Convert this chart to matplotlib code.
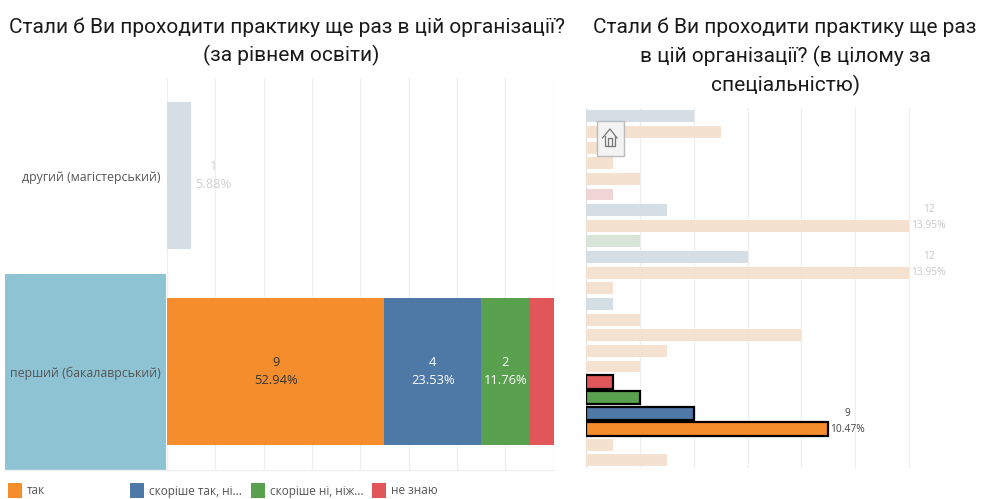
# -*- coding: utf-8 -*-
"""Practice survey bars: by education level and by speciality."""
import matplotlib
matplotlib.use("Agg")
import matplotlib.pyplot as plt
from matplotlib.lines import Line2D
from matplotlib.patches import Rectangle


W, H = 982, 499
TITLE_FONT = "Roboto"
TITLE_SIZE = 15.0
LABEL_FONT = "Open Sans"

ANSWERS = ["так", "скоріше так, ні...", "скоріше ні, ніж...", "не знаю"]
COLORS = ["#F58D2C", "#4E79A7", "#59A14F", "#E15759"]
FADED = ["#F4E1CF", "#D5DDE5", "#D9E4D8", "#EFD5D6"]

LEVELS = ["другий (магістерський)", "перший (бакалаврський)"]
LEVEL_YES = [0, 9]
LEVEL_RATHER_YES = [1, 4]
LEVEL_RATHER_NO = [0, 2]
LEVEL_UNKNOWN = [0, 1]

# answer index and count for each row of the right chart, top to bottom
SPEC_ANSWER = [1, 0, 0, 0, 0, 3, 1, 0, 2, 1, 0, 0, 1, 0, 0, 0, 0, 3, 2, 1, 0, 0, 0]
SPEC_COUNT = [4, 5, 1, 1, 2, 1, 3, 12, 2, 6, 12, 1, 1, 2, 8, 3, 2, 1, 2, 4, 9, 1, 3]
SPEC_HIGHLIGHT = [17, 18, 19, 20]
SPEC_LABELLED = [7, 10, 20]


def box(x0, y0, x1, y1):
    """Return a figure fraction rectangle from pixel edges."""
    return [x0 / W, 1 - y1 / H, (x1 - x0) / W, (y1 - y0) / H]


def px(x, y):
    """Return figure fractions for a pixel position."""
    return x / W, 1 - y / H


def style_axes(ax, xmax, step):
    """Draw only the pale vertical grid."""
    for spine in ax.spines.values():
        spine.set_visible(False)
    ax.set_xlim(0, xmax)
    ax.set_xticks(range(0, xmax + 1, step))
    ax.tick_params(axis="x", length=0, labelbottom=False)
    ax.grid(axis="x", color="#EFEFEF", lw=1)
    ax.set_axisbelow(True)
    ax.patch.set_alpha(0)


fig = plt.figure(figsize=(W / 100, H / 100), dpi=100, facecolor="white")

# Left chart
ax = fig.add_axes(box(167, 77.5, 553.6, 469.5))
style_axes(ax, 16, 2)
ax.set_ylim(1.5, -0.5)
ax.set_yticks([])

series = [LEVEL_YES, LEVEL_RATHER_YES, LEVEL_RATHER_NO, LEVEL_UNKNOWN]
total = sum(sum(s) for s in series)
for row in range(len(LEVELS)):
    left = 0
    for i, values in enumerate(series):
        value = values[row]
        if value == 0:
            continue
        color = FADED[i] if row == 0 else COLORS[i]
        ax.barh(row, value, left=left, height=0.75, color=color)
        label = f"{value}\n{value / total:.2%}"
        if row == 0:
            ax.annotate(label, (left + value, row), xytext=(16, 0),
                        textcoords="offset points", ha="center", va="center",
                        color="#D0D0D0", fontsize=9.3, family=LABEL_FONT,
                        linespacing=1.6)
        elif value > 1:
            ax.text(left + value / 2, row, label, ha="center", va="center",
                    color="#333333" if i == 0 else "white", fontsize=9.3,
                    family=LABEL_FONT, linespacing=1.6)
        left += value

fig.add_artist(Rectangle(px(5, 470), 161 / W, 196 / H, color="#8EC3D3",
                         lw=0, transform=fig.transFigure))
fig.add_artist(Line2D([5 / W, 554 / W], [1 - 470 / H] * 2, color="#F0F0F0",
                      lw=1))
for name, y in zip(LEVELS, [177, 373]):
    fig.text(*px(161, y), name, ha="right", va="center", color="#555555",
             fontsize=8.9, family=LABEL_FONT)

# Right chart
ax2 = fig.add_axes(box(586, 108, 963, 468))
style_axes(ax2, 14, 2)
ax2.set_ylim(22.49, -0.53)
ax2.set_yticks([])
ax2.axvline(0, color="#E4E4E4", lw=1)

spec_total = sum(SPEC_COUNT)
for row, (answer, count) in enumerate(zip(SPEC_ANSWER, SPEC_COUNT)):
    if row in SPEC_HIGHLIGHT:
        ax2.barh(row, count, height=0.85, color=COLORS[answer],
                 edgecolor="black", lw=1.6, zorder=3)
    else:
        ax2.barh(row, count, height=0.76, color=FADED[answer], zorder=2)
    if row in SPEC_LABELLED:
        color = "#444444" if row in SPEC_HIGHLIGHT else "#C8C8C8"
        ax2.annotate(str(count), (count, row), xytext=(14, 11.5),
                     textcoords="offset points", ha="center", va="center",
                     color=color, fontsize=7.4, family=LABEL_FONT)
        ax2.annotate(f"{count / spec_total:.2%}", (count, row),
                     xytext=(14, 0), textcoords="offset points",
                     ha="center", va="center", color=color, fontsize=7.4,
                     family=LABEL_FONT)

# Titles
fig.text(*px(287, 27), "Стали б Ви проходити практику ще раз в цій організації?",
         ha="center", va="center", fontsize=TITLE_SIZE, family=TITLE_FONT,
         color="#1A1A1A")
fig.text(*px(291, 55), "(за рівнем освіти)", ha="center", va="center",
         fontsize=TITLE_SIZE, family=TITLE_FONT, color="#1A1A1A")
right_title = ["Стали б Ви проходити практику ще раз",
               "в цій організації? (в цілому за",
               "спеціальністю)"]
for line, y in zip(right_title, [27, 56, 85]):
    fig.text(*px(785, y), line, ha="center", va="center", fontsize=TITLE_SIZE,
             family=TITLE_FONT, color="#1A1A1A")

# Legend
for answer, color, x in zip(ANSWERS, COLORS, [8, 130, 251, 372]):
    fig.add_artist(Rectangle(px(x, 498), 14 / W, 15 / H, color=color, lw=0,
                             transform=fig.transFigure))
    fig.text(*px(x + 19, 491), answer, ha="left", va="center",
             color="#555555", fontsize=8.5, family=LABEL_FONT)

# Home button
fig.add_artist(Rectangle(px(597, 155.5), 26.5 / W, 35 / H, facecolor="#F3F3F3",
                         edgecolor="#BBBBBB", lw=1, zorder=5,
                         transform=fig.transFigure))
house = [[(602.5, 138), (610, 129), (617, 138)],
         [(605, 136), (605, 146), (615, 146), (615, 136)],
         [(608, 146), (608, 138), (612, 138), (612, 146)]]
for part in house:
    xs, ys = zip(*[px(x, y) for x, y in part])
    fig.add_artist(Line2D(xs, ys, color="#777777", lw=0.9, zorder=6))

fig.savefig("out.png", dpi=100)
